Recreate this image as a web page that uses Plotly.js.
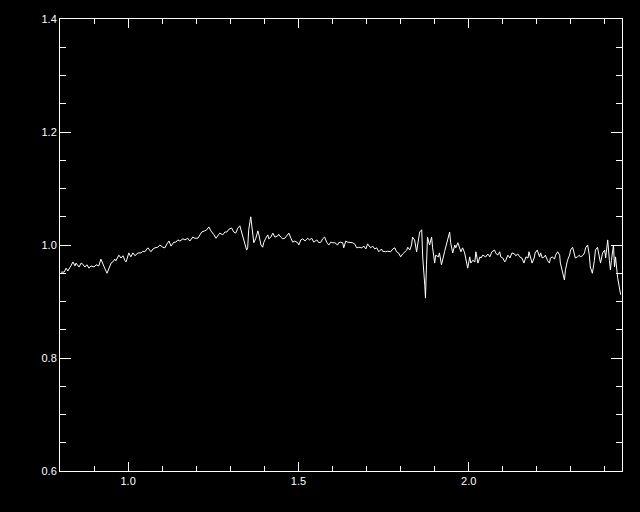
<!DOCTYPE html>
<html>
<head>
<meta charset="utf-8">
<script src="https://cdn.plot.ly/plotly-3.0.1.min.js"></script>
<style>html,body{margin:0;padding:0;background:#000;}#chart{width:640px;height:512px;}</style>
</head>
<body>
<div id="chart"></div>
<script>
// Wavelength (x) and normalised flux (y)
const wavelength = [
0.803,0.812,0.818,0.823,0.832,0.838,0.844,0.847,0.856,0.862,0.867,0.873,0.879,0.885,0.891,0.900,0.906,0.914,0.920,0.926,
0.932,0.938,0.944,0.950,0.955,0.961,0.964,0.973,0.979,0.985,0.991,0.994,1.002,1.008,1.014,1.020,1.029,1.038,1.043,1.049,
1.058,1.067,1.073,1.079,1.087,1.093,1.102,1.108,1.114,1.120,1.126,1.134,1.140,1.146,1.152,1.161,1.167,1.175,1.181,1.190,
1.196,1.205,1.211,1.216,1.225,1.231,1.237,1.243,1.252,1.258,1.263,1.269,1.278,1.284,1.290,1.296,1.304,1.310,1.316,1.322,
1.328,1.334,1.343,1.348,1.351,1.354,1.360,1.366,1.369,1.375,1.381,1.384,1.390,1.395,1.398,1.404,1.410,1.413,1.419,1.425,
1.431,1.439,1.442,1.448,1.454,1.460,1.469,1.472,1.478,1.483,1.489,1.498,1.501,1.507,1.513,1.519,1.527,1.533,1.539,1.545,
1.554,1.560,1.566,1.571,1.577,1.583,1.589,1.595,1.601,1.607,1.615,1.618,1.624,1.630,1.633,1.639,1.645,1.654,1.659,1.665,
1.671,1.677,1.686,1.692,1.698,1.703,1.712,1.718,1.724,1.730,1.736,1.744,1.747,1.756,1.762,1.771,1.777,1.783,1.788,1.794,
1.800,1.806,1.812,1.818,1.821,1.827,1.832,1.835,1.841,1.847,1.850,1.856,1.862,1.865,1.871,1.873,1.876,1.879,1.885,1.891,
1.894,1.897,1.900,1.903,1.911,1.914,1.920,1.929,1.932,1.938,1.944,1.947,1.953,1.959,1.962,1.968,1.974,1.977,1.982,1.988,
1.991,1.997,2.003,2.006,2.012,2.018,2.021,2.027,2.033,2.036,2.041,2.050,2.056,2.062,2.068,2.076,2.079,2.085,2.091,2.094,
2.100,2.106,2.109,2.115,2.121,2.127,2.135,2.138,2.144,2.150,2.156,2.162,2.168,2.174,2.177,2.180,2.186,2.192,2.195,2.201,
2.208,2.211,2.216,2.222,2.225,2.231,2.237,2.240,2.246,2.252,2.255,2.261,2.267,2.269,2.275,2.281,2.284,2.290,2.296,2.299,
2.305,2.310,2.313,2.319,2.325,2.328,2.334,2.340,2.343,2.349,2.354,2.357,2.363,2.369,2.372,2.378,2.384,2.387,2.393,2.399,
2.402,2.408,2.413,2.416,2.419,2.425,2.428,2.431,2.437,2.443,2.446
];
const flux = [
0.952,0.952,0.959,0.954,0.963,0.970,0.963,0.968,0.961,0.968,0.966,0.961,0.965,0.959,0.963,0.961,0.965,0.963,0.975,0.965,
0.958,0.950,0.959,0.968,0.970,0.975,0.972,0.982,0.977,0.981,0.972,0.970,0.986,0.979,0.986,0.981,0.986,0.986,0.989,0.988,
0.995,0.988,0.993,0.995,0.996,1.000,0.996,0.995,1.002,1.007,0.998,1.005,1.005,1.009,1.007,1.011,1.009,1.012,1.007,1.014,
1.012,1.012,1.018,1.023,1.025,1.027,1.032,1.025,1.018,1.012,1.016,1.021,1.018,1.023,1.023,1.028,1.030,1.023,1.021,1.030,
1.034,1.021,1.000,0.991,0.995,1.027,1.050,1.021,1.004,1.012,1.025,1.018,1.000,0.996,1.004,1.012,1.018,1.011,1.014,1.021,
1.014,1.016,1.019,1.014,1.011,1.012,1.018,1.021,1.012,1.005,1.007,1.004,1.000,1.009,1.011,1.007,1.012,1.009,1.012,1.005,
1.009,1.004,1.005,1.011,1.014,1.005,1.000,1.005,1.004,1.004,1.000,1.004,1.005,1.004,0.995,1.007,1.005,1.005,1.004,1.002,
0.995,0.996,0.995,0.998,0.993,1.002,0.995,0.998,0.993,0.995,0.988,0.993,0.989,0.988,0.989,0.988,0.993,0.995,0.988,0.986,
0.979,0.984,0.988,0.991,0.996,0.991,1.000,1.014,1.009,0.988,1.000,1.023,1.027,0.977,0.929,0.906,0.965,1.014,1.000,1.014,
0.995,0.977,0.968,0.982,0.979,0.986,0.965,0.988,0.995,1.012,1.023,1.004,0.986,1.000,0.995,1.004,0.991,0.988,0.995,0.986,
0.977,0.959,0.979,0.968,0.973,0.970,0.988,0.968,0.979,0.977,0.982,0.979,0.984,0.979,0.988,0.991,0.986,0.982,0.988,0.979,
0.977,0.970,0.973,0.982,0.977,0.986,0.984,0.981,0.984,0.979,0.977,0.968,0.979,0.977,0.988,0.982,0.968,0.977,0.986,0.991,
0.979,0.986,0.977,0.979,0.982,0.973,0.968,0.977,0.979,0.975,0.982,0.988,0.982,0.968,0.950,0.938,0.956,0.973,0.982,0.991,
0.996,0.986,0.977,0.979,0.982,0.979,0.981,0.986,0.995,1.000,0.982,0.961,0.950,0.973,0.991,0.996,0.979,0.968,0.986,0.991,
0.977,1.009,0.973,0.956,0.973,1.000,0.961,0.979,0.943,0.926,0.912
];
const xTickVals = [1.0, 1.5, 2.0];
const xTickText = ['1.0', '1.5', '2.0'];
const yTickVals = [0.6, 0.8, 1.0, 1.2, 1.4];
const yTickText = ['0.6', '0.8', '1.0', '1.2', '1.4'];

const trace = {
  x: wavelength, y: flux, type: 'scatter', mode: 'lines',
  line: {color: '#ffffff', width: 1}, hoverinfo: 'skip'
};
const axisCommon = {
  showgrid: false, zeroline: false, showline: true, linecolor: '#ffffff', linewidth: 1,
  mirror: 'allticks', ticks: 'inside', tickcolor: '#ffffff', tickwidth: 1,
  tickmode: 'array', tickfont: {family: 'Liberation Sans, Arial, sans-serif', size: 11, color: '#ffffff'}
};
const layout = {
  width: 640, height: 512,
  paper_bgcolor: '#000000', plot_bgcolor: '#000000',
  margin: {l: 60, r: 18, t: 19, b: 41},
  showlegend: false,
  xaxis: Object.assign({}, axisCommon, {
    range: [0.8, 2.45], tickvals: xTickVals, ticktext: xTickText, ticklen: 9,
    minor: {dtick: 0.1, ticklen: 5, ticks: 'inside', tickcolor: '#ffffff', tickwidth: 1, showgrid: false}
  }),
  yaxis: Object.assign({}, axisCommon, {
    range: [0.6, 1.4], tickvals: yTickVals, ticktext: yTickText, ticklen: 11,
    minor: {dtick: 0.05, ticklen: 6, ticks: 'inside', tickcolor: '#ffffff', tickwidth: 1, showgrid: false}
  })
};
Plotly.newPlot('chart', [trace], layout, {staticPlot: true, displayModeBar: false});
</script>
</body>
</html>
